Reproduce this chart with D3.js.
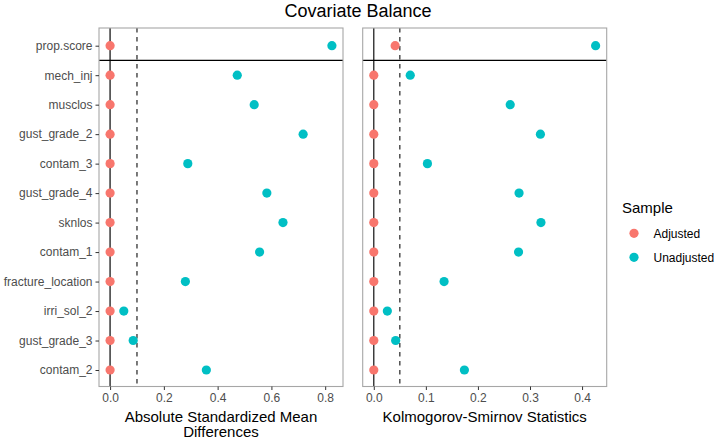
<!DOCTYPE html>
<html><head><meta charset="utf-8">
<script src="https://cdn.jsdelivr.net/npm/d3@7"></script>
<style>body{margin:0;background:#fff;} svg{display:block;font-family:"Liberation Sans",Arial,Helvetica,sans-serif;}</style>
</head><body><svg id="c" width="716" height="440"></svg>
<script>
const covariates = ["prop.score","mech_inj","musclos","gust_grade_2","contam_3","gust_grade_4","sknlos","contam_1","fracture_location","irri_sol_2","gust_grade_3","contam_2"];
const smdAdjusted   = [0,0,0,0,0,0,0,0,0,0,0,0];
const smdUnadjusted = [0.825,0.473,0.536,0.718,0.289,0.583,0.643,0.556,0.280,0.051,0.086,0.358];
const ksAdjusted    = [0.041,0,0,0,0,0,0,0,0,0,0,0];
const ksUnadjusted  = [0.426,0.070,0.262,0.320,0.103,0.279,0.321,0.278,0.135,0.026,0.042,0.174];
const smdTicks = [0,0.2,0.4,0.6,0.8];
const ksTicks = [0,0.1,0.2,0.3,0.4];
const samples = ["Adjusted","Unadjusted"];
const colors = ["#F8766D","#00BFC4"];
const smdThreshold = 0.1, ksThreshold = 0.05;

const svg = d3.select("#c");
const panelTop = 28, panelBottom = 386.5;
const y = d3.scalePoint().domain(covariates).range([45.7, 370]);

function panel(x0, x1, adj, unadj, ticks, thr, title, fmt, solidColor, solidW) {
  const maxV = d3.max(unadj.concat(adj));
  const span = maxV - 0;
  const x = d3.scaleLinear().domain([0 - 0.05*span, maxV + 0.05*span]).range([x0, x1]);
  const g = svg.append("g");
  g.append("line").attr("x1", x(0)).attr("x2", x(0)).attr("y1", panelTop).attr("y2", panelBottom)
    .attr("stroke", solidColor).attr("stroke-width", solidW);
  g.append("line").attr("x1", x(thr)).attr("x2", x(thr)).attr("y1", panelTop).attr("y2", panelBottom)
    .attr("stroke", "#333").attr("stroke-width", 1.3).attr("stroke-dasharray", "4.5,4.5");
  const hy = (y(covariates[0]) + y(covariates[1])) / 2;
  g.append("line").attr("x1", x0).attr("x2", x1).attr("y1", hy).attr("y2", hy)
    .attr("stroke", "#000").attr("stroke-width", 1.2);
  covariates.forEach((c, i) => {
    g.append("circle").attr("cx", x(adj[i])).attr("cy", y(c)).attr("r", 4.6).attr("fill", colors[0]);
    g.append("circle").attr("cx", x(unadj[i])).attr("cy", y(c)).attr("r", 4.6).attr("fill", colors[1]);
  });
  g.append("rect").attr("x", x0).attr("y", panelTop).attr("width", x1 - x0).attr("height", panelBottom - panelTop)
    .attr("fill", "none").attr("stroke", "#A6A6A6").attr("stroke-width", 1.1);
  const ax = svg.append("g").attr("transform", `translate(0,${panelBottom})`)
    .call(d3.axisBottom(x).tickValues(ticks).tickFormat(fmt).tickSize(3.5).tickPadding(3));
  ax.select(".domain").remove();
  ax.selectAll("line").attr("stroke", "#333");
  ax.selectAll("text").attr("fill", "#4D4D4D").attr("font-size", 12).style("font-family", "inherit");
  const cx = (x0 + x1) / 2;
  const t = svg.append("text").attr("text-anchor", "middle").attr("font-size", 15).attr("fill", "#000");
  title.forEach((line, k) => t.append("tspan").attr("x", cx).attr("y", 421.5 + k * 15.5).text(line));
  return x;
}

panel(99, 343, smdAdjusted, smdUnadjusted, smdTicks, smdThreshold,
      ["Absolute Standardized Mean", "Differences"], d3.format(".1f"), "#444", 1.6);
panel(362.7, 606.7, ksAdjusted, ksUnadjusted, ksTicks, ksThreshold,
      ["Kolmogorov-Smirnov Statistics"], d3.format(".1f"), "#111", 1.2);

const ay = svg.append("g").attr("transform", "translate(99,0)")
  .call(d3.axisLeft(y).tickSize(3.5).tickPadding(3));
ay.select(".domain").remove();
ay.selectAll("line").attr("stroke", "#333");
ay.selectAll("text").attr("fill", "#4D4D4D").attr("font-size", 12).style("font-family", "inherit");

svg.append("text").attr("x", 358).attr("y", 16.5).attr("text-anchor", "middle")
  .attr("font-size", 18).attr("fill", "#000").text("Covariate Balance");

const lg = svg.append("g");
lg.append("text").attr("x", 622).attr("y", 213).attr("font-size", 15).attr("fill", "#000").text("Sample");
samples.forEach((s, i) => {
  const yy = 233.3 + i * 24;
  lg.append("circle").attr("cx", 634).attr("cy", yy).attr("r", 4.6).attr("fill", colors[i]);
  lg.append("text").attr("x", 653.5).attr("y", yy + 4.3).attr("font-size", 12).attr("fill", "#000").text(s);
});
</script></body></html>
